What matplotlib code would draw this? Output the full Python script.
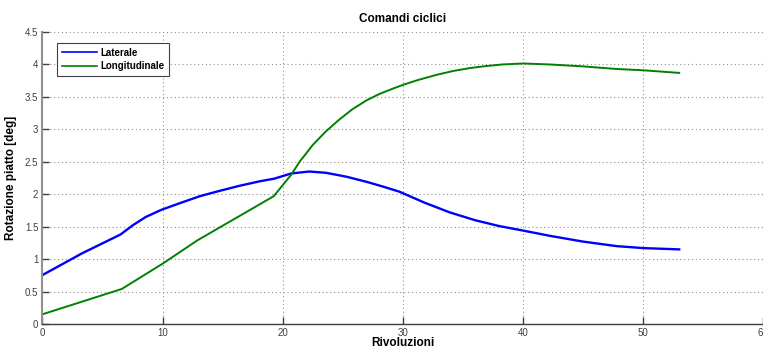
import matplotlib.pyplot as plt

plt.rcParams['font.family'] = ['Liberation Sans', 'DejaVu Sans']

# Laterale (blu)
lat_x = [0, 3.3, 6.5, 7.5, 8.6, 9.9, 11.4, 13.1, 14.7, 16.4, 18.1, 19.3, 20.7,
         22.2, 23.6, 25.3, 27.0, 28.3, 29.7, 31.8, 33.9, 36.0, 38.0, 40.0,
         42.2, 45, 47.8, 50, 53]
lat_y = [0.755, 1.09, 1.38, 1.52, 1.65, 1.76, 1.86, 1.97, 2.05, 2.13, 2.20, 2.24,
         2.32, 2.35, 2.33, 2.27, 2.19, 2.12, 2.04, 1.87, 1.72, 1.60, 1.51, 1.44,
         1.36, 1.27, 1.20, 1.17, 1.15]

# Longitudinale (verde)
lon_x = [0, 6.6, 10, 12.9, 19.25, 20.7, 21.4, 22.5, 23.6, 24.7, 25.8, 27.0,
         28.1, 29.2, 30, 31.25, 32.8, 34.2, 35.6, 36.9, 38.3, 40, 42.2, 45,
         47.8, 50, 53]
lon_y = [0.15, 0.54, 0.93, 1.29, 1.97, 2.30, 2.50, 2.76, 2.97, 3.15, 3.31, 3.45,
         3.55, 3.63, 3.685, 3.76, 3.84, 3.90, 3.945, 3.975, 4.0, 4.015, 4.0, 3.97,
         3.93, 3.91, 3.87]

xticks = [0, 10, 20, 30, 40, 50, 60]
yticks = [0, 0.5, 1, 1.5, 2, 2.5, 3, 3.5, 4, 4.5]

fig = plt.figure(figsize=(7.63, 3.49), dpi=100)
ax = fig.add_axes([0.0557, 0.0716, 0.9447, 0.8367])

ax.plot(lat_x, lat_y, color='#0000ff', linewidth=1.7, label='Laterale')
ax.plot(lon_x, lon_y, color='#008000', linewidth=1.4, label='Longitudinale')

ax.set_xlim(0, 60)
ax.set_ylim(0, 4.5)
ax.set_xticks(xticks)
ax.set_yticks(yticks)
ax.set_yticklabels(['0', '0.5', '1', '1.5', '2', '2.5', '3', '3.5', '4', '4.5'])
ax.tick_params(direction='in', length=5, width=1, labelsize=7, colors='#404040',
               labelcolor='#404040')
ax.tick_params(axis='x', pad=3)
ax.tick_params(axis='y', pad=3)

ax.grid(True, linestyle=(0, (1, 2.5)), color='#909090', linewidth=0.8)

for s in ['top', 'right']:
    ax.spines[s].set_visible(False)
ax.spines['left'].set_color('#909090')
ax.spines['left'].set_linewidth(1.5)
ax.spines['bottom'].set_color('#404040')
ax.spines['bottom'].set_linewidth(1)

ax.set_title('Comandi ciclici', fontsize=8.5, fontweight='bold', pad=7)
ax.set_xlabel('Rivoluzioni', fontsize=8.5, fontweight='bold', labelpad=-1)
ax.set_ylabel('Rotazione piatto [deg]', fontsize=8.5, fontweight='bold', labelpad=6)

leg = ax.legend(loc='upper left', bbox_to_anchor=(0.013, 0.98),
                prop={'weight': 'bold', 'size': 7}, fancybox=False,
                edgecolor='#404040', framealpha=1, handlelength=3.6,
                borderpad=0.5, labelspacing=0.35, handletextpad=0.4)
leg.get_frame().set_linewidth(0.8)
for line in leg.get_lines():
    line.set_linewidth(1.2)

fig.savefig('out.png', dpi=100)
